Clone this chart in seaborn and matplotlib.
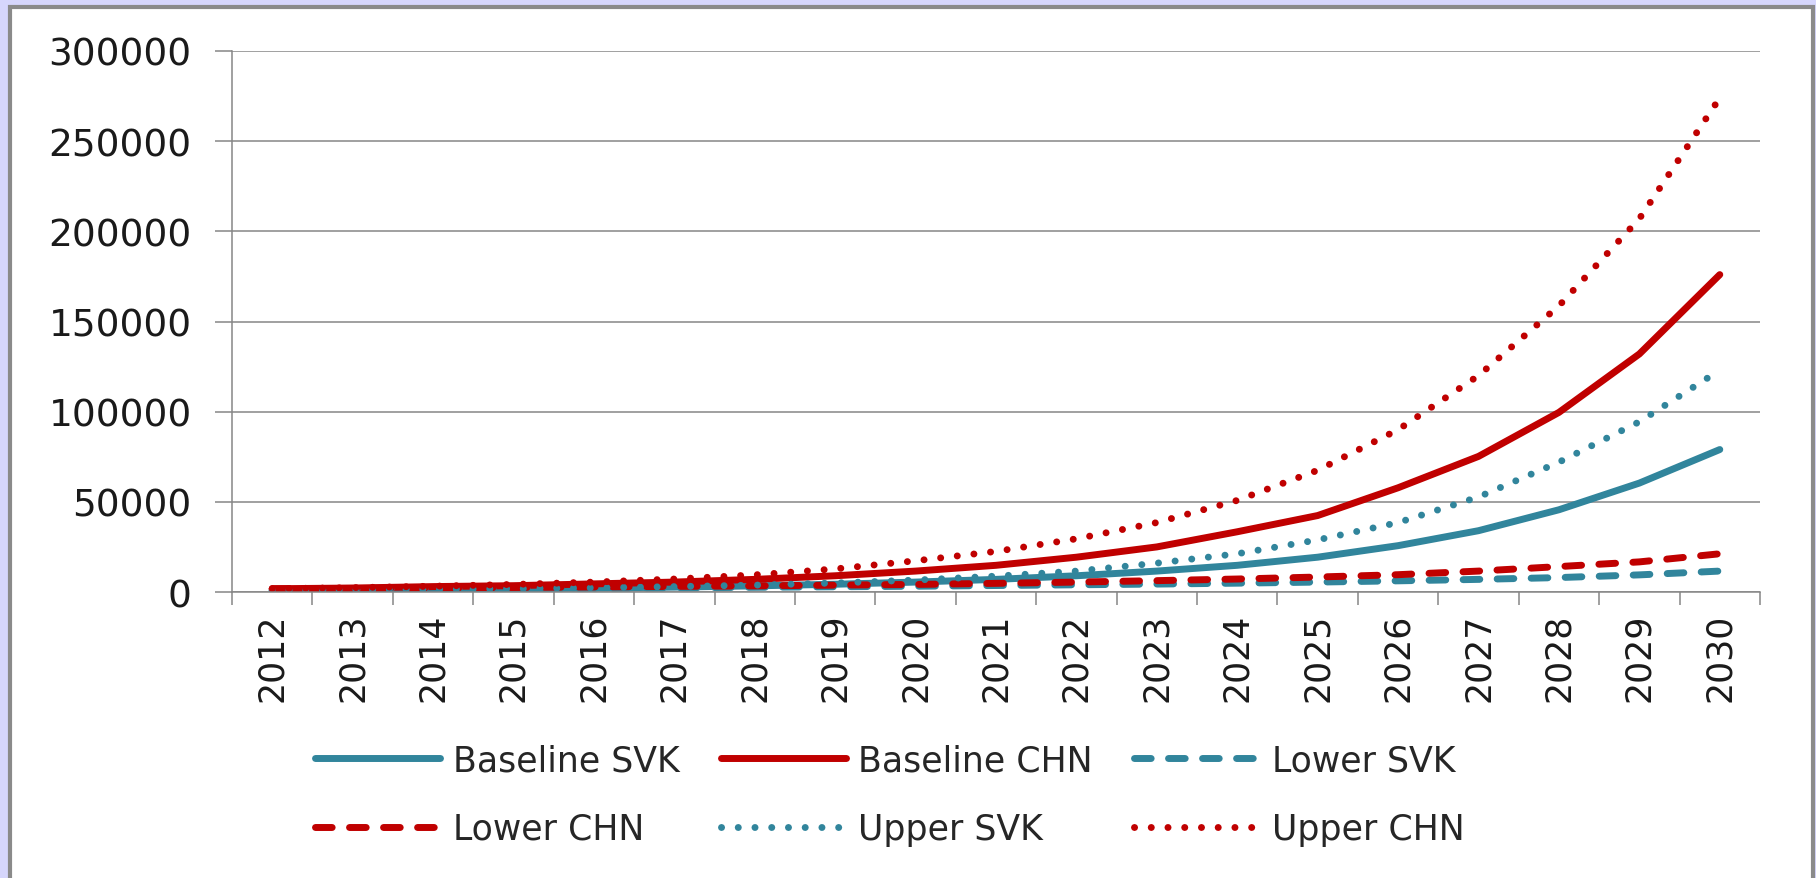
import numpy as np
import pandas as pd
import matplotlib.pyplot as plt
from matplotlib.patches import Rectangle
import seaborn as sns


years = list(range(2012, 2031))

baseline_svk = [1000, 1200, 1500, 1800, 2200, 2700, 3400, 4300, 5500, 7000,
                9000, 11600, 14800, 19300, 25700, 34000, 45600, 60400, 79000]
baseline_chn = [1800, 2200, 3000, 3500, 4500, 5500, 7000, 9000, 11600, 14800,
                19300, 25000, 33400, 42400, 57800, 75200, 99600, 132000, 176000]
lower_svk = [1000, 1200, 1400, 1700, 2000, 2300, 2600, 2900, 3200, 3600,
             4000, 4400, 4900, 5500, 6200, 7000, 8000, 9500, 11600]
lower_chn = [1800, 2000, 2300, 2500, 2800, 3100, 3400, 3800, 4200, 4800,
             5500, 6300, 7200, 8300, 9600, 11600, 14100, 16700, 21200]
upper_svk = [1000, 1100, 1400, 1800, 2300, 3000, 3800, 5000, 6600, 8800,
             11600, 16000, 21200, 28900, 38500, 52700, 72000, 94400, 123000]
upper_chn = [1800, 2400, 3200, 4200, 5500, 7200, 9500, 12800, 17300, 22500,
             29500, 38500, 50800, 67500, 90000, 120000, 158700, 207000, 274000]

series_names = ["Baseline SVK", "Baseline CHN", "Lower SVK",
                "Lower CHN", "Upper SVK", "Upper CHN"]
series_values = [baseline_svk, baseline_chn, lower_svk,
                 lower_chn, upper_svk, upper_chn]

TEAL = "#31859C"
RED = "#C00000"
GRAY = "#868686"

styles = {
    "Baseline SVK": (TEAL, None),
    "Baseline CHN": (RED, None),
    "Lower SVK": (TEAL, (2.4, 2.5)),
    "Lower CHN": (RED, (2.4, 2.5)),
    "Upper SVK": (TEAL, (0.01, 2.4)),
    "Upper CHN": (RED, (0.01, 2.4)),
}


def main():
    sns.set_style("white")
    plt.rcParams["font.family"] = ["DejaVu Sans"]

    fig = plt.figure(figsize=(18.16, 8.79), dpi=100, facecolor="#D6D6FC")
    fig.patches.append(Rectangle(
        (10 / 1816, -0.02), (1803) / 1816, 1.02 - 8 / 879,
        transform=fig.transFigure, facecolor="white",
        edgecolor="#8A8A8A", linewidth=3, zorder=-10))

    ax = fig.add_axes([232 / 1816, 1 - 593 / 879,
                       (1760 - 232) / 1816, (593 - 52) / 879])
    ax.set_zorder(1)
    ax.patch.set_alpha(0)

    for name, values in zip(series_names, series_values):
        color, dashes = styles[name]
        sns.lineplot(x=years, y=values, color=color, linewidth=5,
                     label=name, ax=ax)
        line = ax.lines[-1]
        if dashes is not None:
            line.set_dashes(dashes)
            line.set_dash_capstyle("round")
        line.set_solid_capstyle("round")

    ax.set_xlim(2011.5, 2030.5)
    ax.set_ylim(0, 300000)
    ax.set_yticks(np.arange(0, 300001, 50000))
    ax.set_yticklabels([str(v) for v in range(0, 300001, 50000)])
    ax.set_xticks(years)
    ax.set_xticklabels([str(y) for y in years], rotation=90)
    ax.set_xticks(np.arange(2011.5, 2031, 1.0), minor=True)

    ax.yaxis.grid(True, color=GRAY, linewidth=1.1)
    ax.set_axisbelow(True)
    for side in ["top", "right"]:
        ax.spines[side].set_visible(False)
    for side in ["left", "bottom"]:
        ax.spines[side].set_color(GRAY)
        ax.spines[side].set_linewidth(1.1)

    ax.tick_params(axis="y", which="major", length=12, width=1.1,
                   color=GRAY, pad=17, labelsize=27, labelcolor="#1a1a1a",
                   left=True)
    ax.tick_params(axis="x", which="major", length=0, pad=15,
                   labelsize=25, labelcolor="#1a1a1a")
    ax.tick_params(axis="x", which="minor", length=9, width=1.1,
                   color=GRAY, bottom=True)
    ax.set_xlabel("")
    ax.set_ylabel("")

    handles, labels = ax.get_legend_handles_labels()
    order = [0, 3, 1, 4, 2, 5]
    ax.legend([handles[i] for i in order], [labels[i] for i in order],
              loc="center", bbox_to_anchor=(0.49, 0.095),
              bbox_transform=fig.transFigure, ncol=3, frameon=False,
              fontsize=25, handlelength=3.6, handletextpad=0.35,
              columnspacing=1.2, labelspacing=1.0)

    fig.savefig("out.png", dpi=100, facecolor=fig.get_facecolor())
    plt.close(fig)


if __name__ == "__main__":
    main()
